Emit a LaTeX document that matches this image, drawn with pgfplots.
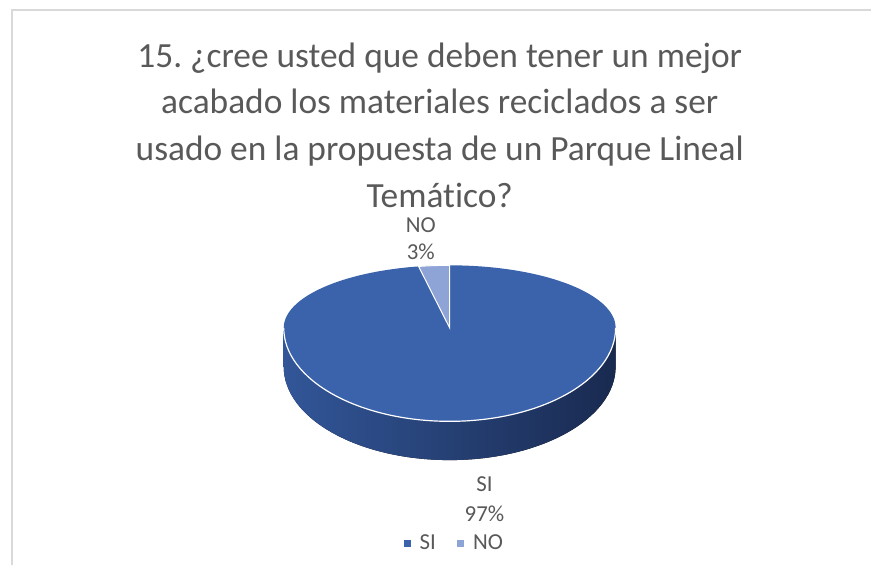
\documentclass[border=0pt]{standalone}
\usepackage{pgfplots}
\usepackage{pgfplotstable}
\pgfplotsset{compat=1.18}
\usepackage{fontspec}
\setmainfont{Carlito}[Ligatures={NoCommon}]
\frenchspacing
\definecolor{siblue}{RGB}{59,99,172}
\definecolor{noblue}{RGB}{143,164,214}
\definecolor{sideL}{RGB}{50,86,152}
\definecolor{sideR}{RGB}{25,42,80}
\definecolor{txt}{RGB}{89,89,89}
\definecolor{framec}{RGB}{217,217,217}
\pgfplotstableread{
label value
SI 97
NO 3
}\piedata
\begin{document}
\pgfplotstablegetelem{0}{value}\of\piedata \let\sival\pgfplotsretval
\pgfplotstablegetelem{1}{value}\of\piedata \let\noval\pgfplotsretval
\pgfmathsetmacro{\noend}{90+\noval*3.6}
\begin{tikzpicture}
\begin{axis}[
  x=0.5pt, y=0.5pt, xmin=0, xmax=872, ymin=0, ymax=569,
  hide axis, clip=false,
  legend columns=2,
  legend style={draw=none, fill=none, at={(axis cs:452,22)}, anchor=center,
    font=\fontsize{11.5}{13}\selectfont\color{txt},
    /tikz/every even column/.append style={column sep=7pt}},
  legend image code/.code={\fill[#1, draw=none] (0.06cm,-0.06cm) rectangle (0.18cm,0.06cm);
    \path[draw=none, fill=none] (0,0) rectangle (0.27cm,0.01cm);},
]
\path (axis cs:0,0) rectangle (axis cs:872,569);
% frame
\draw[framec, line width=1pt] (axis cs:8,0) -- (axis cs:8,559) -- (axis cs:872,559);
% side of pie
\fill[left color=sideL, right color=sideR]
  (axis cs:281,239) arc[start angle=180, end angle=360, x radius=167, y radius=94]
  -- (axis cs:615,200) arc[start angle=0, end angle=-180, x radius=167, y radius=94]
  -- cycle;
% top face (SI)
\fill[siblue]
  (axis cs:281,239) arc[start angle=180, end angle=0, x radius=167, y radius=63]
  arc[start angle=0, end angle=-180, x radius=167, y radius=94] -- cycle;
\draw[white, line width=0.6pt]
  (axis cs:281,239) arc[start angle=180, end angle=360, x radius=167, y radius=94];
% NO wedge
\filldraw[fill=noblue, draw=white, line width=0.5pt]
  (axis cs:448,239) -- (axis cs:448,302)
  arc[start angle=90, end angle=\noend, x radius=167, y radius=63] -- cycle;
% title
\node[align=center, inner sep=0pt, text=txt, font=\fontsize{17.8}{23.6}\selectfont] at (axis cs:438,443)
  {15. ¿cree usted que deben tener un mejor\\acabado los materiales reciclados a ser\\usado en la propuesta de un Parque Lineal\\Temático?};
% data labels
\node[align=center, inner sep=0pt, text=txt, font=\fontsize{11.5}{13.5}\selectfont] at (axis cs:419,329) {NO\\\noval\%};
\node[align=center, inner sep=0pt, text=txt, font=\fontsize{11.5}{15}\selectfont] at (axis cs:483,67) {SI\\\sival\%};
% legend
\addlegendimage{siblue}
\addlegendentry{SI}
\addlegendimage{noblue}
\addlegendentry{NO}
\end{axis}
\end{tikzpicture}
\end{document}
